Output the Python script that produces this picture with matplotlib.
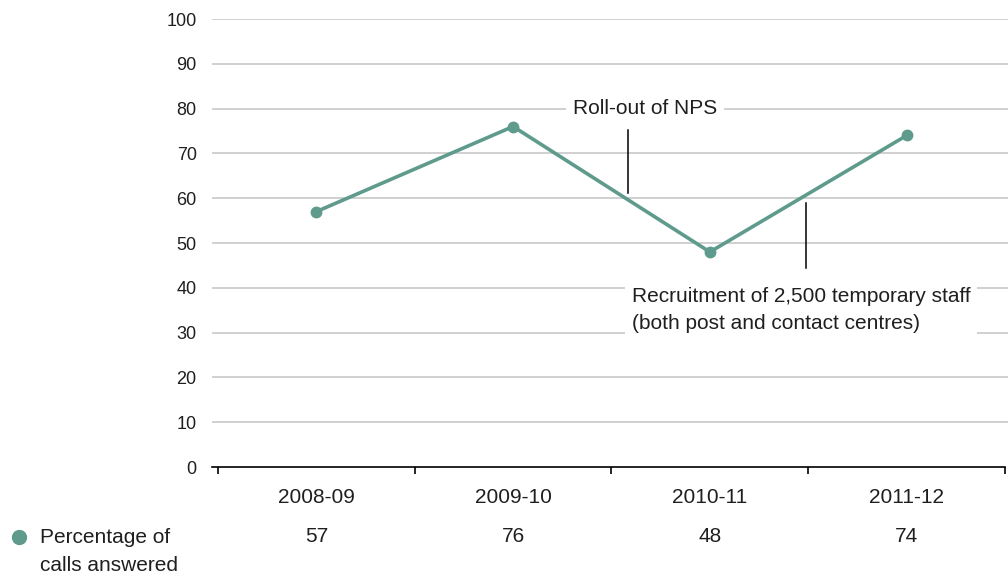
import matplotlib.pyplot as plt
from matplotlib.lines import Line2D
from matplotlib.transforms import blended_transform_factory

plt.rcParams['font.family'] = ['Liberation Sans', 'DejaVu Sans']

years = ['2008-09', '2009-10', '2010-11', '2011-12']
calls_answered = [57, 76, 48, 74]
series_label = 'Percentage of\ncalls answered'

teal = '#5f9b8c'
grid_grey = '#c4c4c4'
text_col = '#1f1f1f'

fig = plt.figure(figsize=(10.08, 5.77), dpi=100)
ax = fig.add_axes([212 / 1008, 1 - 467 / 577, 796 / 1008, 448 / 577])

x = list(range(len(years)))
ax.set_xlim(-0.53, 3.515)
ax.set_ylim(0, 100)

# horizontal gridlines
for yv in range(10, 101, 10):
    ax.axhline(yv, color=grid_grey, lw=1.1, zorder=1)

ax.plot(x, calls_answered, color=teal, lw=2.6, marker='o', ms=7.5, zorder=4)

# spines and ticks
for s in ['top', 'right', 'left']:
    ax.spines[s].set_visible(False)
ax.spines['bottom'].set_bounds(-0.53, 3.5)
ax.spines['bottom'].set_linewidth(1.2)
ax.set_xticks([-0.5, 0.5, 1.5, 2.5, 3.5])
ax.set_xticklabels([])
ax.tick_params(axis='x', length=5, width=1.2, direction='out')
ax.set_yticks(range(0, 101, 10))
ax.tick_params(axis='y', length=0, pad=11, labelsize=13, labelcolor=text_col)

# category labels and values under the axis
trans = blended_transform_factory(ax.transData, ax.transAxes)
for xi, lab, val in zip(x, years, calls_answered):
    ax.text(xi, -0.067, lab, transform=trans, ha='center', va='center',
            fontsize=15, color=text_col)
    ax.text(xi, -0.156, str(val), transform=trans, ha='center', va='center',
            fontsize=15, color=text_col)

# series key
fig.add_artist(Line2D([19 / 1008], [1 - 537 / 577], marker='o', ms=10,
                      color=teal, transform=fig.transFigure))
fig.text(40 / 1008, 1 - 551.5 / 577, series_label, ha='left', va='center',
         fontsize=15, color=text_col, linespacing=1.6)

# annotations
ax.text(1.67, 80, 'Roll-out of NPS', ha='center', va='center', fontsize=15,
        color=text_col, zorder=5,
        bbox=dict(facecolor='white', edgecolor='none', pad=5))
ax.plot([1.584, 1.584], [61.2, 75.2], color='black', lw=1.1, zorder=5)

ax.text(1.604, 35, 'Recruitment of 2,500 temporary staff\n(both post and contact centres)',
        ha='left', va='center', fontsize=15, color=text_col, zorder=5,
        linespacing=1.55,
        bbox=dict(facecolor='white', edgecolor='none', pad=5))
ax.plot([2.487, 2.487], [44.4, 58.9], color='black', lw=1.1, zorder=5)

fig.savefig('out.png', dpi=100)
